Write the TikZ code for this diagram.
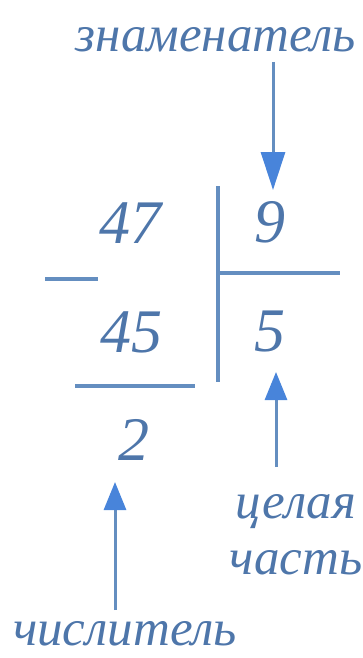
\documentclass[tikz,border=0pt]{standalone}
\usepackage{fontspec}
\setmainfont{Liberation Serif}
\usetikzlibrary{arrows.meta}
\definecolor{txtblue}{RGB}{78,118,170}
\definecolor{lineblue}{RGB}{100,142,192}
\definecolor{tipblue}{RGB}{72,132,218}
\tikzset{
  lbl/.style={text=txtblue, font=\fontsize{51}{55}\selectfont\itshape, inner sep=0pt},
  num/.style={text=txtblue, font=\fontsize{62}{66}\selectfont\itshape, inner sep=0pt},
  rule/.style={draw=lineblue, line width=3.2pt},
  bigarrow/.style={draw=lineblue, line width=3pt, -{Triangle[length=38pt,width=24pt,color=tipblue]}},
  smallarrow/.style={draw=lineblue, line width=3pt, -{Triangle[length=28pt,width=22pt,color=tipblue]}}
}
\begin{document}
\begin{tikzpicture}[x=1pt,y=-1pt]
\useasboundingbox (0,0) rectangle (363,658);
% labels
\node[lbl] (den) at (216,40) {знаменатель};
\node[lbl] (whole1) at (296,512) {целая};
\node[lbl] (whole2) at (296,563) {часть};
\node[lbl] (numer) at (125,634) {числитель};
% numbers
\node[num] (n47) at (130,223) {47};
\node[num] (n9) at (270,222) {9};
\node[num] (n45) at (131,332) {45};
\node[num] (n5) at (270,332) {5};
\node[num] (n2) at (134,440) {2};
% rules
\coordinate (vtop) at (218,186);
\coordinate (vbot) at (218,382);
\coordinate (hl) at (220,273);
\coordinate (hr) at (340,273);
\coordinate (ml) at (45,279);
\coordinate (mr) at (98,279);
\coordinate (ul) at (75,386);
\coordinate (ur) at (195,386);
\draw[rule] (vtop) -- (vbot);
\draw[rule] (hl) -- (hr);
\draw[rule] (ml) -- (mr);
\draw[rule] (ul) -- (ur);
% arrows
\coordinate (a1s) at (273,62);
\coordinate (a1e) at (273,190);
\draw[bigarrow] (a1s) -- (a1e);
\coordinate (a2s) at (276,467);
\coordinate (a2e) at (276,372);
\draw[smallarrow] (a2s) -- (a2e);
\coordinate (a3s) at (115,610);
\coordinate (a3e) at (115,482);
\draw[smallarrow] (a3s) -- (a3e);
\end{tikzpicture}
\end{document}
